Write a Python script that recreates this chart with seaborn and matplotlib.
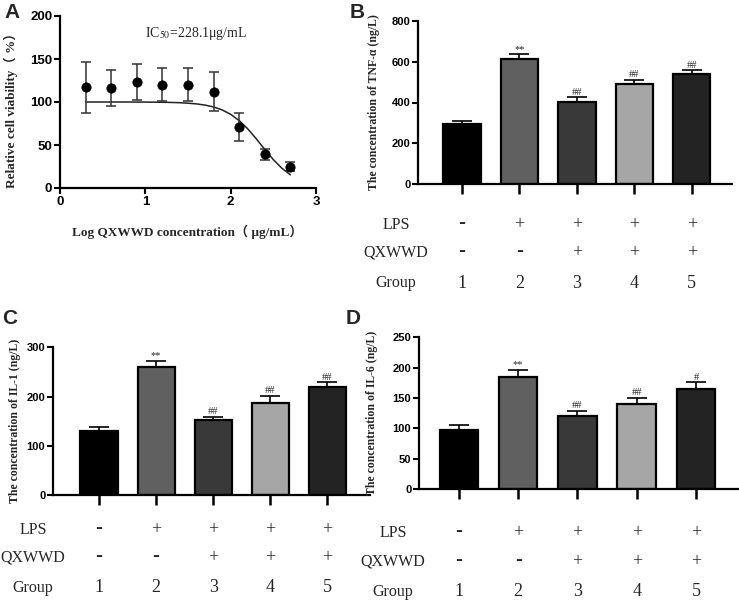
import numpy as np
import pandas as pd
import matplotlib
matplotlib.use("Agg")
import matplotlib.pyplot as plt
import matplotlib.transforms as mtransforms
import seaborn as sns

sns.set_theme(style="ticks")
plt.rcParams['font.family'] = ['Liberation Sans', 'DejaVu Sans']
plt.rcParams['mathtext.fontset'] = 'stix'

# ---------------- data ----------------
# Panel A: cell viability
log_conc = [0.3, 0.6, 0.9, 1.2, 1.5, 1.8, 2.1, 2.4, 2.7]
viability = [117, 116, 123, 120, 120, 112, 71, 39, 25]
viability_err = [30, 21, 21, 19, 19, 23, 16, 6, 5]
fit_x = [0.3, 0.4, 0.5, 0.6, 0.7, 0.8, 0.9, 1.0, 1.1, 1.2, 1.3, 1.4, 1.5,
         1.6, 1.7, 1.8, 1.9, 2.0, 2.1, 2.2, 2.3, 2.4, 2.5, 2.6, 2.7]
fit_y = [100.0, 100.0, 100.0, 100.0, 100.0, 100.0, 99.9, 99.9, 99.8, 99.7,
         99.5, 99.2, 98.6, 97.8, 96.4, 94.2, 90.8, 85.7, 78.4, 68.8, 57.2,
         44.8, 33.0, 23.0, 15.3]
ic50_label = "IC$_{50}$=228.1μg/mL"

groups = ["1", "2", "3", "4", "5"]
lps = ["-", "+", "+", "+", "+"]
qxwwd = ["-", "-", "+", "+", "+"]
bar_colors = ["#000000", "#606060", "#393939", "#a6a6a6", "#232323"]

tnf = [293, 611, 404, 490, 541]
tnf_err = [15, 24, 21, 22, 16]
tnf_sig = ["", "**", "##", "##", "##"]

il1 = [129, 261, 152, 187, 219]
il1_err = [10, 11, 7, 15, 10]
il1_sig = ["", "**", "##", "##", "##"]

il6 = [97, 184, 120, 141, 165]
il6_err = [9, 12, 9, 9, 11]
il6_sig = ["", "**", "##", "##", "#"]

# ---------------- figure ----------------
W, H = 739, 602
fig = plt.figure(figsize=(W / 100, H / 100), dpi=100)


def px_axes(left, right, top, bottom):
    return fig.add_axes([left / W, 1 - bottom / H, (right - left) / W, (bottom - top) / H])


serif = ['Liberation Serif', 'Noto Sans CJK SC', 'DejaVu Serif']


def style_axes(ax):
    sns.despine(ax=ax)
    for s in ['left', 'bottom']:
        ax.spines[s].set_linewidth(1.6)
        ax.spines[s].set_color('black')
    ax.tick_params(axis='both', colors='black', width=1.5, length=4, pad=1.5)
    for lab in ax.get_xticklabels() + ax.get_yticklabels():
        lab.set_fontweight('bold')


# ---- Panel A ----
axA = px_axes(60, 316, 16, 188)
sns.lineplot(x=fit_x, y=fit_y, ax=axA, color='#222222', lw=1.1)
axA.errorbar(log_conc, viability, yerr=viability_err, fmt='none', ecolor='#333333',
             elinewidth=1.1, capsize=3.5, capthick=1.1, zorder=3)
sns.scatterplot(x=log_conc, y=viability, ax=axA, color='black', s=45,
                edgecolor='black', zorder=4)
axA.set_xlim(0, 3)
axA.set_ylim(0, 200)
axA.set_xticks([0, 1, 2, 3])
axA.set_yticks([0, 50, 100, 150, 200])
style_axes(axA)
for lab in axA.get_xticklabels() + axA.get_yticklabels():
    lab.set_fontsize(9.5)
axA.set_ylabel("Relative cell viability（ %）", family=serif, fontweight='bold', fontsize=9.5)
axA.set_xlabel("Log QXWWD concentration（ μg/mL）", family=serif, fontweight='bold', fontsize=9.5)
axA.yaxis.set_label_coords(-0.165, 0.47)
axA.xaxis.set_label_coords(0.496, -0.215)
axA.text(1.6, 180, ic50_label, family=serif, fontsize=10, ha='center', va='center')


def bar_panel(ax, values, errs, sigs, ylim, yticks, ylabel, xlim, rows_y, label_x,
              ylab_coords):
    df = pd.DataFrame({"group": groups, "value": values})
    sns.barplot(data=df, x="group", y="value", hue="group", palette=bar_colors,
                legend=False, ax=ax, width=0.65, edgecolor='black', linewidth=1.6,
                errorbar=None, zorder=2)
    xs = np.arange(len(values))
    ax.errorbar(xs, values, yerr=[np.zeros(len(errs)), errs], fmt='none', ecolor='black',
                elinewidth=1.2, capsize=7, capthick=1.2, zorder=1)
    for x, v, e, s in zip(xs, values, errs, sigs):
        if s:
            ax.annotate(s, (x, v + e), xytext=(0, 0.5), textcoords='offset points',
                        ha='center', va='bottom', family=serif, fontsize=7.5)
    ax.set_xlim(*xlim)
    ax.set_ylim(*ylim)
    ax.set_yticks(yticks)
    style_axes(ax)
    for lab in ax.get_yticklabels():
        lab.set_fontsize(8)
    ax.tick_params(axis='x', length=7, width=1.8, labelbottom=False)
    ax.set_xlabel("")
    ax.set_ylabel(ylabel, family=serif, fontweight='bold', fontsize=8.5)
    ax.yaxis.set_label_coords(*ylab_coords)
    trans = mtransforms.blended_transform_factory(ax.transData, fig.transFigure)
    for names, label, ypx in zip([lps, qxwwd, groups], ["LPS", "QXWWD", "Group"], rows_y):
        yf = 1 - ypx / H
        fig.text(label_x / W, yf, label, family=serif, fontsize=11.5, ha='center', va='center')
        for x, n in zip(xs, names):
            if n == "-":
                ax.text(x, yf + 2.5 / H, "-", transform=trans, family=['Liberation Sans'],
                        fontsize=15, fontweight='bold', ha='center', va='center')
            else:
                ax.text(x, yf, n, transform=trans, family=serif, fontsize=13,
                        ha='center', va='center')


axB = px_axes(418, 732, 20.7, 184.3)
bar_panel(axB, tnf, tnf_err, tnf_sig, (0, 800), [0, 200, 400, 600, 800],
          "The concentration of TNF-α (ng/L)", (-0.765, 4.70), [225, 253, 283], 396,
          (-0.12, 0.5))

axC = px_axes(53, 370, 347.3, 495)
bar_panel(axC, il1, il1_err, il1_sig, (0, 300), [0, 100, 200, 300],
          "The concentration of IL-1 (ng/L)", (-0.807, 4.75), [530, 558, 588], 33,
          (-0.1, 0.5))

axD = px_axes(419, 738, 337.3, 489.3)
bar_panel(axD, il6, il6_err, il6_sig, (0, 250), [0, 50, 100, 150, 200, 250],
          "The concentration of IL-6 (ng/L)", (-0.675, 4.71), [533, 562, 592], 393,
          (-0.128, 0.5))

# panel letters
for letter, xpx, ypx in [("A", 12, 12), ("B", 357, 12), ("C", 10, 318), ("D", 353, 318)]:
    fig.text(xpx / W, 1 - ypx / H, letter, fontsize=15, fontweight='bold',
             ha='center', va='center', family=['Liberation Sans', 'DejaVu Sans'])

fig.savefig("out.png", dpi=100)
